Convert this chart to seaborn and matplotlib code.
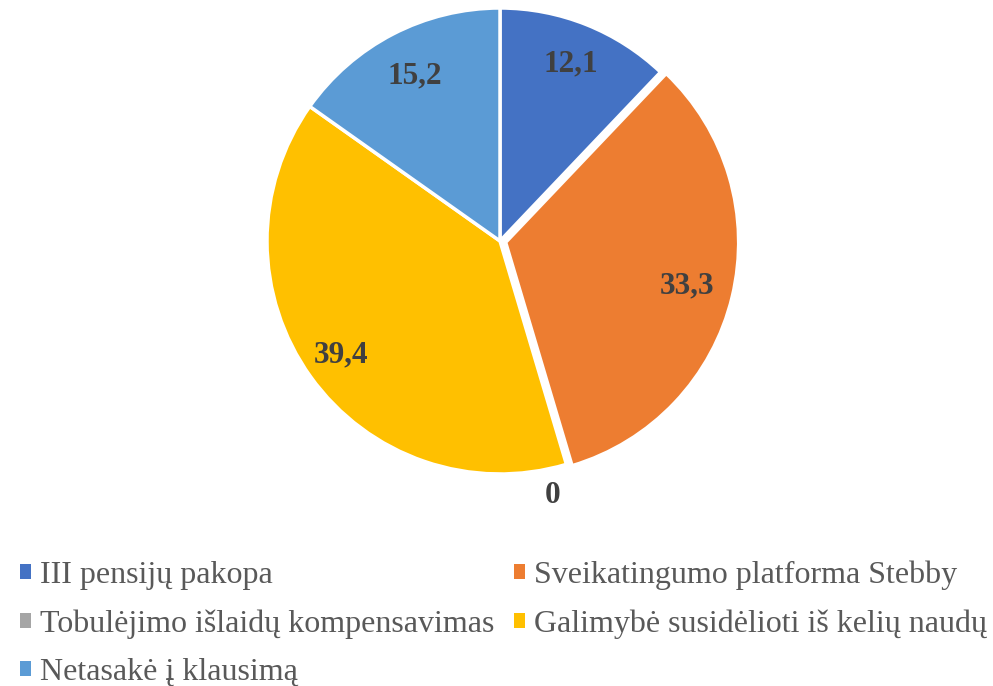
import numpy as np
import matplotlib
import matplotlib.pyplot as plt
import seaborn as sns

matplotlib.use('Agg')

categories = ["III pensijų pakopa", "Sveikatingumo platforma Stebby",
              "Tobulėjimo išlaidų kompensavimas", "Galimybė susidėlioti iš kelių naudų",
              "Netasakė į klausimą"]
values = [12.1, 33.3, 0, 39.4, 15.2]
value_labels = ["12,1", "33,3", "0", "39,4", "15,2"]

colors = ["#4472C4", "#ED7D31", "#A5A5A5", "#FFC000", "#5B9BD5"]

sns.set_theme(style="white")
plt.rcParams['font.family'] = ['Liberation Serif', 'DejaVu Serif']

fig = plt.figure(figsize=(9.93, 6.86), dpi=100)
r_px = 233
ax = fig.add_axes([(500 - r_px) / 993, 1 - (241 + r_px) / 686, 2 * r_px / 993, 2 * r_px / 686])

wedges, _ = ax.pie(values, colors=colors, startangle=90, counterclock=False,
                   explode=[0, 0.025, 0, 0, 0],
                   wedgeprops=dict(edgecolor='white', linewidth=2.5))
ax.set_xlim(-1.0, 1.0)
ax.set_ylim(-1.0, 1.0)
ax.set_aspect('equal')

label_r = [0.82, 0.80, 1.1, 0.84, 0.80]
label_off = [(0, 0), (0, 0), (-15, -6), (0, 0), (0, 0)]
for w, lab, r, off in zip(wedges, value_labels, label_r, label_off):
    ang = np.deg2rad((w.theta1 + w.theta2) / 2)
    cx, cy = w.center
    ax.annotate(lab, (cx + r * np.cos(ang), cy + r * np.sin(ang)), xytext=off,
                textcoords='offset points', ha='center', va='center',
                fontsize=22.5, fontweight='bold', color='#404040', annotation_clip=False)

order = [0, 2, 4, 1, 3]
leg = fig.legend([wedges[i] for i in order], [categories[i] for i in order],
                 ncol=2, loc='upper left', bbox_to_anchor=(0.02, 0.183),
                 borderaxespad=0, borderpad=0,
                 frameon=False, fontsize=23, handlelength=0.35, handleheight=0.35,
                 handletextpad=0.28, columnspacing=0.6, labelspacing=0.6,
                 labelcolor='#595959')
for h in leg.legend_handles:
    h.set_edgecolor('none')

fig.savefig("out.png", dpi=100, facecolor='white')
